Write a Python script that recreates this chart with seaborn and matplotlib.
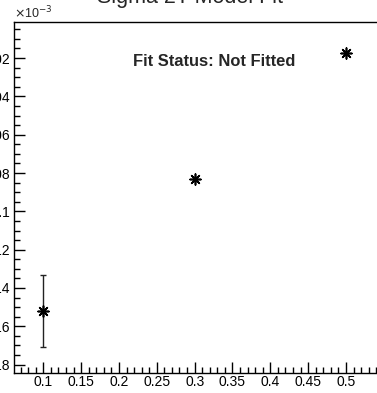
import matplotlib
matplotlib.use("Agg")
import matplotlib.pyplot as plt
import matplotlib.ticker as mticker
import seaborn as sns
import pandas as pd
import numpy as np

# data (y in units of 1e-3)
x_vals = [0.1, 0.3, 0.5]
y_vals = [-0.152, -0.0832, -0.0174]
y_errs = [0.019, 0.0012, 0.0010]
title = "Sigma 2T Model Fit"
status = "Fit Status: Not Fitted"

sns.set_style("white")
plt.rcParams['font.family'] = ['Liberation Sans', 'DejaVu Sans']
plt.rcParams['xtick.bottom'] = True
plt.rcParams['ytick.left'] = True

df = pd.DataFrame({"x": x_vals, "y": y_vals, "err": y_errs})

fig = plt.figure(figsize=(3.77, 3.93), dpi=100)
ax = fig.add_axes([14/377, 1-372.7/393, 0.998-14/377, (372.7-22)/393])

ax.errorbar(df["x"], df["y"], yerr=df["err"], fmt='none', ecolor='#222222',
            elinewidth=1.0, capsize=2.5, capthick=1.0, zorder=2)
sns.scatterplot(data=df, x="x", y="y", ax=ax, marker=(8, 2, 0), s=60,
                color='black', linewidth=1.2, edgecolor='black', zorder=3, legend=False)

ax.set_xlim(0.0613, 0.54)
ax.set_ylim(-0.1842, -0.0012)
ax.set_xlabel("")
ax.set_ylabel("")

ax.xaxis.set_major_locator(mticker.MultipleLocator(0.05))
ax.xaxis.set_minor_locator(mticker.MultipleLocator(0.01))
ax.yaxis.set_major_locator(mticker.MultipleLocator(0.02))
ax.yaxis.set_minor_locator(mticker.MultipleLocator(0.005))
ax.xaxis.set_major_formatter(mticker.FuncFormatter(lambda v, p: ("%g" % round(v, 3))))
ax.yaxis.set_major_formatter(mticker.FuncFormatter(lambda v, p: ("%g" % round(v, 3))))

ax.tick_params(axis='both', which='major', direction='in', length=8, width=1,
               labelsize=10, colors='black', pad=3)
ax.tick_params(axis='both', which='minor', direction='in', length=4, width=1, colors='black')
ax.tick_params(top=False, right=False, bottom=True, left=True, which='both')
ax.tick_params(axis='x', which='major', pad=2)

for s in ax.spines.values():
    s.set_color('black')
    s.set_linewidth(1.0)
ax.spines['right'].set_visible(False)

fig.text(14/377, 1-18/393, r"$\times$10$^{-3}$", fontsize=9, ha='left', va='baseline')
fig.text(0.505, 1+3/393, title, fontsize=15.5, ha='center', va='center')
fig.text(214/377, 1-62/393, status, fontsize=11.9, fontweight='bold', ha='center', va='center')

fig.savefig("out.png", dpi=100, facecolor='white')
